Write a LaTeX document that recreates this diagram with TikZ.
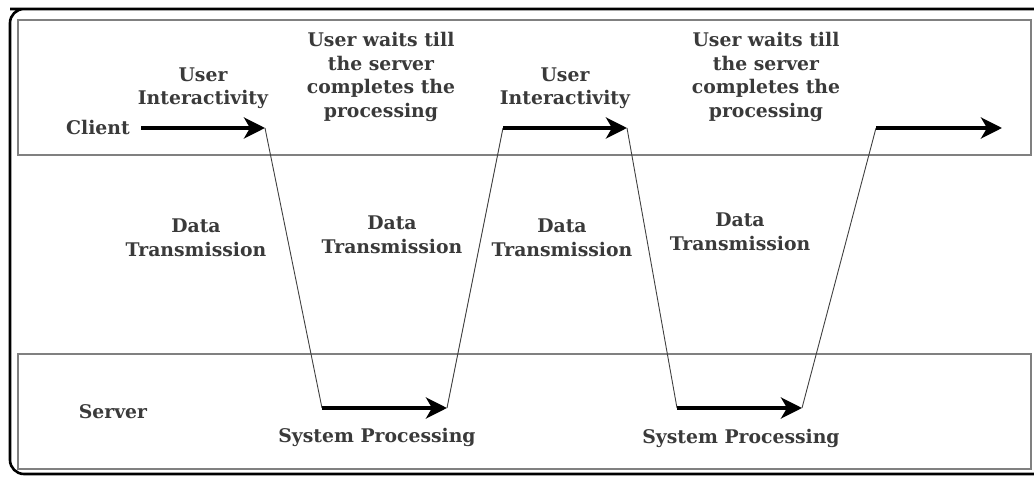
\documentclass[tikz,border=0pt]{standalone}
\usepackage{fontspec}
\setmainfont{DejaVu Serif}
\usetikzlibrary{arrows.meta}
\definecolor{txt}{HTML}{3A3A3A}
\definecolor{boxline}{HTML}{808080}
\definecolor{wire}{HTML}{404040}
\begin{document}
\begin{tikzpicture}[x=1pt,y=-1pt,
  lbl/.style={text=txt,font=\bfseries\fontsize{18.8}{23.5}\selectfont,align=center,inner sep=0pt},
  lane/.style={draw=boxline,line width=1.4pt},
  frame/.style={draw=black,line width=2.6pt,rounded corners=14pt},
  wireline/.style={draw=wire,line width=0.9pt,line join=miter},
  flow/.style={draw=black,line width=4.2pt,-{Stealth[length=21pt,width=21pt,inset=6pt]}}]
\useasboundingbox (0,0) rectangle (1034,478);
% outer frame and the two lanes
\draw[frame] (1045,9) -- (24,9) -- (10,9) -- (10,474) -- (1045,474);
\draw[lane] (18,20) rectangle (1031,155);
\draw[lane] (18,354) rectangle (1031,469);
% turning points of the timeline
\coordinate (c0) at (141,128);
\coordinate (c1) at (265,128);
\coordinate (s1) at (322,408);
\coordinate (s2) at (447,408);
\coordinate (c2) at (503,128);
\coordinate (c3) at (627,128);
\coordinate (s3) at (677,408);
\coordinate (s4) at (802,408);
\coordinate (c4) at (876,128);
\coordinate (c5) at (1002,128);
% data transmission between client and server
\draw[wireline] (c1) -- (s1) (s2) -- (c2) (c3) -- (s3) (s4) -- (c4);
% activity phases
\draw[flow] (c0) -- (c1);
\draw[flow] (s1) -- (s2);
\draw[flow] (c2) -- (c3);
\draw[flow] (s3) -- (s4);
\draw[flow] (c4) -- (c5);
% labels
\node[lbl,anchor=east] (client) at (130,127) {Client};
\node[lbl] (server) at (113,412) {Server};
\node[lbl] (ui1) at (203,88) {User\\Interactivity};
\node[lbl] (ui2) at (565,88) {User\\Interactivity};
\node[lbl] (w1) at (381,77) {User waits till\\the server\\completes the\\processing};
\node[lbl] (w2) at (766,77) {User waits till\\the server\\completes the\\processing};
\node[lbl] (d1) at (196,238) {Data\\Transmission};
\node[lbl] (d2) at (392,235) {Data\\Transmission};
\node[lbl] (d3) at (562,238) {Data\\Transmission};
\node[lbl] (d4) at (740,232) {Data\\Transmission};
\node[lbl] (p1) at (377,437) {System Processing};
\node[lbl] (p2) at (741,438) {System Processing};
\end{tikzpicture}
\end{document}
